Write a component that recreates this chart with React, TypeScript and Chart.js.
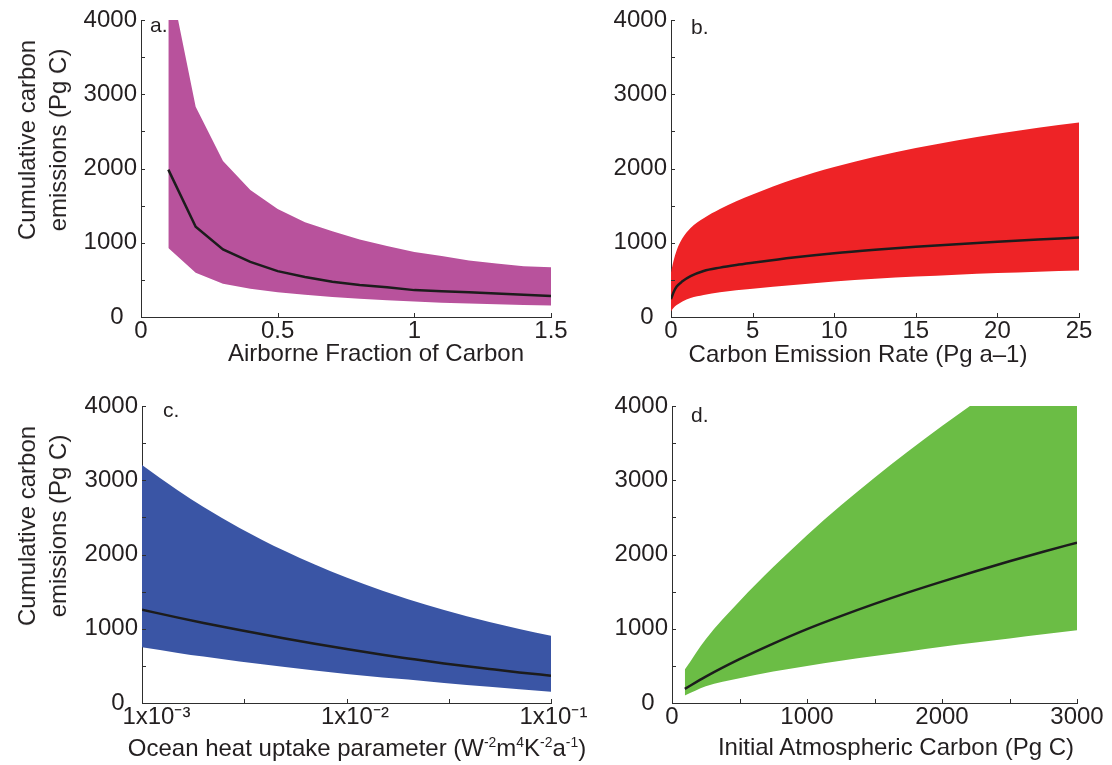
import React, { useEffect, useRef } from 'react';
import { Chart, registerables } from 'chart.js';
Chart.register(...registerables);

const FONT = '"Liberation Sans", Arial, Helvetica, sans-serif';
const TEXT = '#231f20';
const AXIS = '#2e2e2e';
const MEDIAN = '#1c1c1c';

// ---- Panel a: Airborne fraction ----
const aX = [0.1, 0.2, 0.3, 0.4, 0.5, 0.6, 0.7, 0.8, 0.9, 1.0, 1.1, 1.2, 1.3, 1.4, 1.5];
const aUpper = [4650, 2830, 2100, 1710, 1455, 1275, 1155, 1045, 955, 875, 820, 762, 720, 685, 670];
const aMedian = [1985, 1215, 910, 742, 618, 540, 474, 432, 400, 362, 346, 333, 315, 300, 282];
const aLower = [930, 595, 447, 382, 334, 298, 270, 245, 226, 208, 191, 181, 172, 163, 155];
const aXTicks = [0, 0.5, 1, 1.5];
const aXLabels = ['0', '0.5', '1', '1.5'];

// ---- Panel b: Carbon emission rate ----
const bX = [0, 0.15, 0.35, 0.7, 1.2, 2, 3, 4, 5, 7.5, 10, 12.5, 15, 17.5, 20, 22.5, 25];
const bUpper = [600, 750, 900, 1060, 1200, 1330, 1455, 1560, 1650, 1855, 2020, 2158, 2275, 2378, 2468, 2548, 2618];
const bMedian = [240, 330, 410, 480, 550, 620, 665, 700, 730, 800, 858, 905, 946, 981, 1013, 1043, 1072];
const bLower = [75, 120, 160, 210, 255, 295, 332, 360, 380, 430, 477, 515, 545, 570, 592, 610, 625];
const bXTicks = [0, 5, 10, 15, 20, 25];
const bXLabels = ['0', '5', '10', '15', '20', '25'];

// ---- Panel c: Ocean heat uptake (log x) ----
const cX = [0.001, 0.0015, 0.002, 0.003, 0.005, 0.007, 0.01, 0.015, 0.02, 0.03, 0.05, 0.07, 0.1];
const cUpper = [3206, 2862, 2641, 2358, 2046, 1865, 1690, 1512, 1398, 1252, 1090, 996, 906];
const cMedian = [1256, 1150, 1078, 982, 868, 797, 726, 649, 600, 533, 459, 412, 368];
const cLower = [750, 675, 625, 560, 485, 437, 390, 345, 316, 270, 220, 185, 150];
const cXTicks = [0.001, 0.0031623, 0.01, 0.031623, 0.1];
const cXLabels = ['\u2003\u20091x10\u207B\u00B3', '', '\u2002\u20091x10\u207B\u00B2', '', '\u20091x10\u207B\u00B9'];

// ---- Panel d: Initial atmospheric carbon ----
const dX = [95, 250, 500, 750, 1000, 1250, 1500, 1750, 2000, 2250, 2500, 2750, 3000];
const dUpper = [450, 860, 1370, 1830, 2260, 2660, 3035, 3390, 3730, 4055, 4370, 4675, 4970];
const dMedian = [190, 355, 590, 800, 995, 1170, 1335, 1490, 1635, 1775, 1910, 2038, 2160];
const dLower = [100, 225, 335, 425, 500, 568, 632, 695, 757, 815, 870, 925, 980];
const dXTicks = [0, 500, 1000, 1500, 2000, 2500, 3000];
const dXLabels = ['0', '', '1000', '', '2000', '', '3000'];

// ---- shared y axis ----
const yTicks = [0, 500, 1000, 1500, 2000, 2500, 3000, 3500, 4000];
const yLabels = ['0  ', '', '1000', '', '2000', '', '3000', '', '4000'];

const inwardTicks = {
  id: 'inwardTicks',
  afterDraw(chart: any) {
    const ctx = chart.ctx;
    const area = chart.chartArea;
    const xs = chart.scales.x;
    const ys = chart.scales.y;
    ctx.save();
    ctx.strokeStyle = AXIS;
    ctx.lineWidth = 1;
    ctx.beginPath();
    xs.ticks.forEach((t: any) => {
      const px = Math.round(xs.getPixelForValue(t.value)) + 0.5;
      ctx.moveTo(px, area.bottom);
      ctx.lineTo(px, area.bottom - 4);
    });
    ys.ticks.forEach((t: any) => {
      const py = Math.round(ys.getPixelForValue(t.value)) + 0.5;
      ctx.moveTo(area.left, py);
      ctx.lineTo(area.left + 4, py);
    });
    ctx.stroke();
    ctx.restore();
  },
};

type Panel = {
  left: number; top: number; width: number; height: number;
  yWidth: number; xHeight: number; padTop: number; padRight: number;
  xs: number[]; upper: number[]; median: number[]; lower: number[];
  color: string; logX?: boolean; smooth: boolean;
  xMin: number; xMax: number; xTicks: number[]; xLabels: string[];
};

const panels: Panel[] = [
  { left: 0, top: 0, width: 580, height: 380, yWidth: 141, xHeight: 63, padTop: 20, padRight: 29,
    xs: aX, upper: aUpper, median: aMedian, lower: aLower, color: '#b8529c', smooth: false,
    xMin: 0, xMax: 1.5, xTicks: aXTicks, xLabels: aXLabels },
  { left: 560, top: 0, width: 552, height: 380, yWidth: 111, xHeight: 63, padTop: 20, padRight: 33,
    xs: bX, upper: bUpper, median: bMedian, lower: bLower, color: '#ee2326', smooth: true,
    xMin: 0, xMax: 25, xTicks: bXTicks, xLabels: bXLabels },
  { left: 0, top: 385, width: 600, height: 380, yWidth: 142, xHeight: 62, padTop: 21, padRight: 49,
    xs: cX, upper: cUpper, median: cMedian, lower: cLower, color: '#3a55a5', smooth: true, logX: true,
    xMin: 0.001, xMax: 0.1, xTicks: cXTicks, xLabels: cXLabels },
  { left: 560, top: 385, width: 552, height: 380, yWidth: 112, xHeight: 62, padTop: 21, padRight: 35,
    xs: dX, upper: dUpper, median: dMedian, lower: dLower, color: '#6bbd45', smooth: true,
    xMin: 0, xMax: 3000, xTicks: dXTicks, xLabels: dXLabels },
];

function PanelChart({ p }: { p: Panel }) {
  const ref = useRef<HTMLCanvasElement | null>(null);
  useEffect(() => {
    if (!ref.current) return;
    const pts = (ys: number[]) => p.xs.map((x, i) => ({ x, y: ys[i] }));
    const lineOpts: any = p.smooth ? { cubicInterpolationMode: 'monotone' } : { tension: 0 };
    const tickFont = { family: FONT, size: 24 };
    const chart = new Chart(ref.current, {
      type: 'line',
      data: {
        datasets: [
          { data: pts(p.lower), borderWidth: 0, pointRadius: 0, fill: false, order: 2, ...lineOpts },
          { data: pts(p.upper), borderWidth: 0, pointRadius: 0, fill: '-1', backgroundColor: p.color, order: 2, ...lineOpts },
          { data: pts(p.median), borderColor: MEDIAN, borderWidth: 2.5, pointRadius: 0, fill: false, order: 0, ...lineOpts },
        ],
      } as any,
      options: {
        animation: false,
        responsive: false,
        maintainAspectRatio: false,
        events: [],
        layout: { padding: { top: p.padTop, right: p.padRight, left: 0, bottom: 0 } },
        plugins: { legend: { display: false }, tooltip: { enabled: false }, title: { display: false } },
        scales: {
          x: {
            type: p.logX ? 'logarithmic' : 'linear',
            min: p.xMin,
            max: p.xMax,
            grid: { display: false, drawTicks: false },
            border: { display: true, color: AXIS, width: 1 },
            ticks: {
              font: tickFont, color: TEXT, padding: 0, autoSkip: false, maxRotation: 0, minRotation: 0,
              callback: (_v: any, i: number) => p.xLabels[i],
            },
            afterBuildTicks: (s: any) => { s.ticks = p.xTicks.map((v) => ({ value: v })); },
            afterFit: (s: any) => { s.height = p.xHeight; },
          },
          y: {
            type: 'linear',
            min: 0,
            max: 4000,
            grid: { display: false, drawTicks: false },
            border: { display: true, color: AXIS, width: 1 },
            ticks: {
              font: tickFont, color: TEXT, padding: 4, autoSkip: false,
              callback: (_v: any, i: number) => yLabels[i],
            },
            afterBuildTicks: (s: any) => { s.ticks = yTicks.map((v) => ({ value: v })); },
            afterFit: (s: any) => { s.width = p.yWidth; },
          },
        },
      } as any,
      plugins: [inwardTicks],
    });
    return () => chart.destroy();
  }, [p]);
  return (
    <canvas
      ref={ref}
      width={p.width}
      height={p.height}
      style={{ position: 'absolute', left: p.left, top: p.top, width: p.width, height: p.height }}
    />
  );
}

function Txt({ x, base, size, anchor, children }: { x: number; base: number; size: number; anchor?: 'start' | 'middle'; children: any }) {
  return (
    <div
      style={{
        position: 'absolute',
        left: x,
        top: base - 0.8465 * size,
        fontSize: size,
        lineHeight: `${size}px`,
        whiteSpace: 'nowrap',
        color: TEXT,
        transform: anchor === 'middle' ? 'translateX(-50%)' : undefined,
      }}
    >
      {children}
    </div>
  );
}

function YTitle({ cx, cy }: { cx: number; cy: number }) {
  return (
    <div
      style={{
        position: 'absolute',
        left: cx,
        top: cy,
        fontSize: 24,
        lineHeight: '31px',
        textAlign: 'center',
        whiteSpace: 'nowrap',
        color: TEXT,
        transform: 'translate(-50%, -50%) rotate(-90deg)',
      }}
    >
      <div>Cumulative carbon</div>
      <div>emissions (Pg C)</div>
    </div>
  );
}

const sup: React.CSSProperties = { fontSize: '0.58em', position: 'relative', top: '-0.62em' };

export default function App() {
  return (
    <div style={{ position: 'absolute', left: 0, top: 0, width: 1112, height: 765, background: '#fff', fontFamily: FONT, overflow: 'hidden' }}>
      {panels.map((p, i) => <PanelChart key={i} p={p} />)}
      <YTitle cx={42} cy={140} />
      <YTitle cx={42} cy={526} />
      <Txt x={150} base={32} size={21}>a.</Txt>
      <Txt x={691} base={34} size={21}>b.</Txt>
      <Txt x={163} base={417} size={21}>c.</Txt>
      <Txt x={691} base={422} size={21}>d.</Txt>
      <Txt x={376} base={361} size={24} anchor="middle">Airborne Fraction of Carbon</Txt>
      <Txt x={858} base={362} size={24} anchor="middle">Carbon Emission Rate (Pg a&#8211;1)</Txt>
      <Txt x={357} base={756} size={24} anchor="middle">
        Ocean heat uptake parameter (W<span style={sup}>-2</span>m<span style={sup}>4</span>K<span style={sup}>-2</span>a<span style={sup}>-1</span>)
      </Txt>
      <Txt x={896} base={755} size={24} anchor="middle">Initial Atmospheric Carbon (Pg C)</Txt>
    </div>
  );
}
